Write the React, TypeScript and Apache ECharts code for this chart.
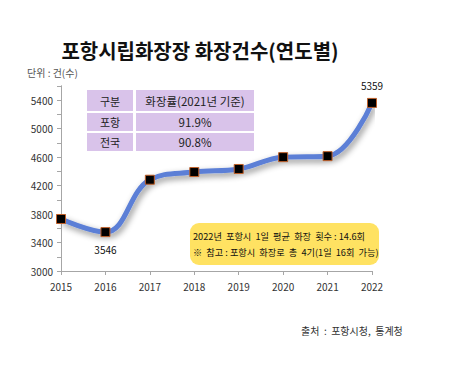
import React, { useEffect, useRef } from "react";
import * as echarts from "echarts";

const years = ["2015", "2016", "2017", "2018", "2019", "2020", "2021", "2022"];
const counts = [3730, 3546, 4281, 4389, 4432, 4598, 4612, 5359];
const labeledYears = ["2016", "2022"];
const tableHeader = ["구분", "화장률(2021년 기준)"];
const tableRows = [
  ["포항", "91.9%"],
  ["전국", "90.8%"],
];
const noteLines = [
  "2022년  포항시  1일  평균  화장  횟수 : 14.6회",
  "※  참고 : 포항시  화장로  총  4기(1일  16회  가능)",
];
const titleText = "포항시립화장장 화장건수(연도별)";
const unitText = "단위 : 건(수)";
const sourceText = "출처  :  포항시청,  통계청";

const FONT = "'Noto Sans CJK KR', 'Noto Sans', sans-serif";

export default function App() {
  const ref = useRef<HTMLDivElement>(null);
  useEffect(() => {
    if (!ref.current) return;
    const chart = echarts.init(ref.current, null, { renderer: "svg" });
    const cellColor = "#D9C3EA";
    const graphics: any[] = [];
    const rowsAll = [tableHeader, ...tableRows];
    const rowTops = [90, 113, 133];
    const rowH = [21, 18, 18];
    rowsAll.forEach((row, i) => {
      graphics.push({
        type: "rect",
        shape: { x: 87, y: rowTops[i], width: 46, height: rowH[i] },
        style: { fill: cellColor },
      });
      graphics.push({
        type: "rect",
        shape: { x: 136, y: rowTops[i], width: 118, height: rowH[i] },
        style: { fill: cellColor },
      });
      graphics.push({
        type: "text",
        x: 110,
        y: rowTops[i] + rowH[i] / 2,
        style: { text: row[0], fill: "#222", font: `11px ${FONT}`, align: "center", verticalAlign: "middle" },
      });
      graphics.push({
        type: "text",
        x: 195,
        y: rowTops[i] + rowH[i] / 2,
        style: { text: row[1], fill: "#222", font: `11.5px ${FONT}`, align: "center", verticalAlign: "middle" },
      });
    });
    graphics.push({
      type: "rect",
      shape: { x: 190, y: 223, width: 189, height: 42, r: 9 },
      style: { fill: "#FFE262" },
    });
    noteLines.forEach((t, i) => {
      graphics.push({
        type: "text",
        x: 193,
        y: 236 + i * 16,
        style: { text: t, fill: "#111", font: `9.2px ${FONT}`, align: "left", verticalAlign: "middle" },
      });
    });
    graphics.push({
      type: "text",
      x: 200,
      y: 50,
      style: { text: titleText, fill: "#111", font: `bold 20px ${FONT}`, align: "center", verticalAlign: "middle" },
    });
    graphics.push({
      type: "text",
      x: 27,
      y: 72,
      style: { text: unitText, fill: "#555", font: `10px ${FONT}`, align: "left", verticalAlign: "middle" },
    });
    graphics.push({
      type: "text",
      x: 301,
      y: 330,
      style: { text: sourceText, fill: "#333", font: `10px ${FONT}`, align: "left", verticalAlign: "middle" },
    });

    chart.setOption({
      animation: false,
      grid: { left: 61, right: 89, top: 85.75, bottom: 102, containLabel: false },
      xAxis: {
        type: "category",
        data: years,
        boundaryGap: false,
        axisLine: { lineStyle: { color: "#a6a6a6" } },
        axisTick: { show: true, alignWithLabel: true, lineStyle: { color: "#a6a6a6" }, length: 4 },
        axisLabel: { color: "#333", fontSize: 10, fontFamily: FONT, margin: 10 },
      },
      yAxis: {
        type: "value",
        min: 3000,
        max: 5600,
        interval: 200,
        splitLine: { show: false },
        axisLine: { show: true, lineStyle: { color: "#a6a6a6" } },
        axisTick: { show: true, lineStyle: { color: "#a6a6a6" }, length: 4 },
        axisLabel: {
          color: "#333",
          fontSize: 10,
          fontFamily: FONT,
          margin: 8,
          formatter: (v: number) => ((v - 3000) % 400 === 0 && v !== 5600 ? String(v) : ""),
        },
      },
      series: [
        {
          type: "line",
          smooth: 0.4,
          data: counts.map((v, i) => ({
            value: v,
            label: {
              show: labeledYears.includes(years[i]),
              position: i === counts.length - 1 ? "top" : "bottom",
              distance: 7,
              color: "#111",
              fontSize: 10,
              fontFamily: FONT,
            },
          })),
          symbol: "rect",
          symbolSize: 9,
          itemStyle: { color: "#000", borderColor: "#C0602A", borderWidth: 1 },
          lineStyle: {
            color: "#5B7FD6",
            width: 5,
            shadowColor: "rgba(0,0,0,0.45)",
            shadowBlur: 6,
            shadowOffsetX: 2,
            shadowOffsetY: 3,
          },
        },
      ],
      graphic: graphics,
    });
    return () => chart.dispose();
  }, []);
  return <div ref={ref} style={{ width: 461, height: 373, position: "absolute", left: 0, top: 0 }} />;
}
